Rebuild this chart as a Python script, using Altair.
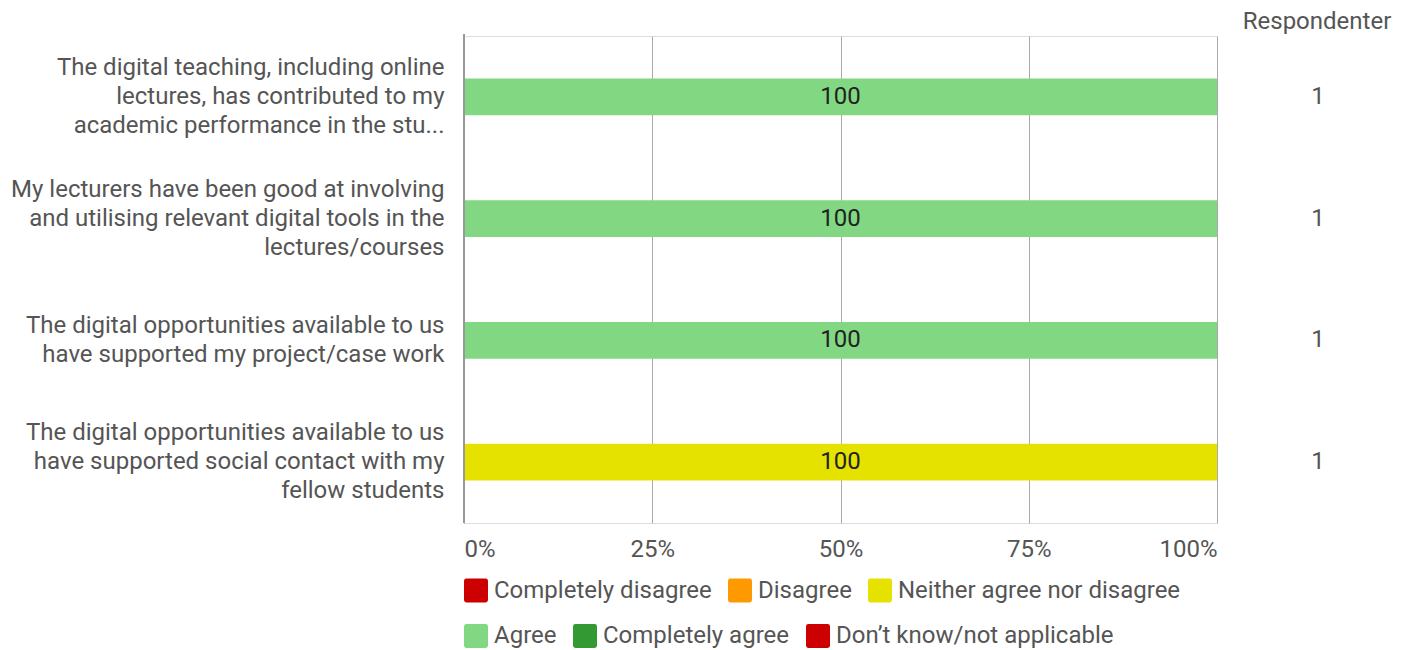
import altair as alt
import pandas as pd

questions = [
    "The digital teaching, including online|lectures, has contributed to my|academic performance in the stu...",
    "My lecturers have been good at involving|and utilising relevant digital tools in the|lectures/courses",
    "The digital opportunities available to us|have supported my project/case work",
    "The digital opportunities available to us|have supported social contact with my|fellow students",
]
answers = ["Agree", "Agree", "Agree", "Neither agree nor disagree"]
percents = [100, 100, 100, 100]
respondents = [1, 1, 1, 1]

categories = [
    "Completely disagree", "Disagree", "Neither agree nor disagree",
    "Agree", "Completely agree", "Don\u2019t know/not applicable",
]
colors = ["#cc0000", "#ff9900", "#e6e200", "#82d882", "#339933", "#cc0000"]
x_ticks = [0, 25, 50, 75, 100]
header = "Respondenter"

df = pd.DataFrame({
    "question": questions,
    "answer": answers,
    "pct": percents,
    "n": respondents,
})

FONT = "Roboto"
FS = 24
TXT = "#555555"
LH = 29

rounded = ("M -0.8,-1 L 0.8,-1 Q 1,-1 1,-0.8 L 1,0.8 Q 1,1 0.8,1 "
           "L -0.8,1 Q -1,1 -1,0.8 L -1,-0.8 Q -1,-1 -0.8,-1 Z")

y_enc = alt.Y(
    "question:N", sort=questions, title=None,
    scale=alt.Scale(paddingInner=0.7, paddingOuter=0.35),
    axis=alt.Axis(
        labelExpr="split(datum.label, '|')", labelFont=FONT, labelFontSize=FS,
        labelColor=TXT, labelLineHeight=LH, labelPadding=20, labelLimit=700,
        labelBaseline="middle",
        labelOffset={
            "condition": {
                "test": "length(split(datum.label, '|')) == 2",
                "value": -LH / 2,
            },
            "value": -LH,
        },
        ticks=False, domain=False, grid=False,
    ),
)


def legend_for(vals, ly):
    return alt.Legend(
        title=None, orient="none", legendX=0, legendY=ly,
        direction="horizontal", values=vals,
        labelFont=FONT, labelFontSize=FS, labelColor=TXT,
        symbolType=rounded, symbolSize=576, symbolStrokeWidth=0,
        symbolOpacity=1, labelOffset=6, columnPadding=16,
        labelLimit=500,
    )


color_scale = alt.Scale(domain=categories, range=colors)

base = alt.Chart(df)

bars = base.mark_bar().encode(
    x=alt.X(
        "pct:Q", title=None, stack=True,
        scale=alt.Scale(domain=[0, 100], nice=False, zero=True),
        axis=alt.Axis(
            values=x_ticks, labelExpr="datum.value + '%'", labelFont=FONT,
            labelFontSize=FS, labelColor=TXT, labelPadding=14, labelFlush=True,
            ticks=False, domain=False, grid=True, gridColor="#aaaaaa",
            gridWidth=1,
        ),
    ),
    y=y_enc,
    color=alt.Color("answer:N", scale=color_scale,
                    legend=legend_for(categories[:3], 542.5)),
)

legend2 = base.mark_bar(opacity=0).encode(
    x=alt.X("pct:Q", stack=True),
    y=alt.Y("question:N", sort=questions),
    color=alt.Color("answer:N", scale=color_scale,
                    legend=legend_for(categories[3:], 588)),
)

labels = base.transform_calculate(mid="datum.pct / 2").mark_text(
    font=FONT, fontSize=FS, color="#222222", baseline="middle", align="center"
).encode(
    x=alt.X("mid:Q"),
    y=alt.Y("question:N", sort=questions),
    text=alt.Text("pct:Q"),
)

zero_line = base.mark_rule(color="#999999", strokeWidth=2).encode(
    x=alt.datum(0),
    y=alt.value(-2),
    y2=alt.value(487),
)

resp = base.mark_text(
    font=FONT, fontSize=FS, color=TXT, baseline="middle", align="center"
).encode(
    x=alt.value(854),
    y=alt.Y("question:N", sort=questions),
    text=alt.Text("n:Q"),
)

head = alt.Chart(pd.DataFrame({"h": [header]})).mark_text(
    font=FONT, fontSize=FS, color=TXT, baseline="middle", align="center"
).encode(
    x=alt.value(853),
    y=alt.value(-14),
    text="h:N",
)

chart = alt.layer(bars, legend2, zero_line, labels, resp, head).resolve_scale(
    color="independent"
).properties(
    width=753, height=487,
    padding={"left": 2, "top": 2, "right": 5, "bottom": 5},
).configure_view(stroke=None).configure(background="white")

chart.save("out.html", embed_options={"renderer": "svg", "actions": False})
